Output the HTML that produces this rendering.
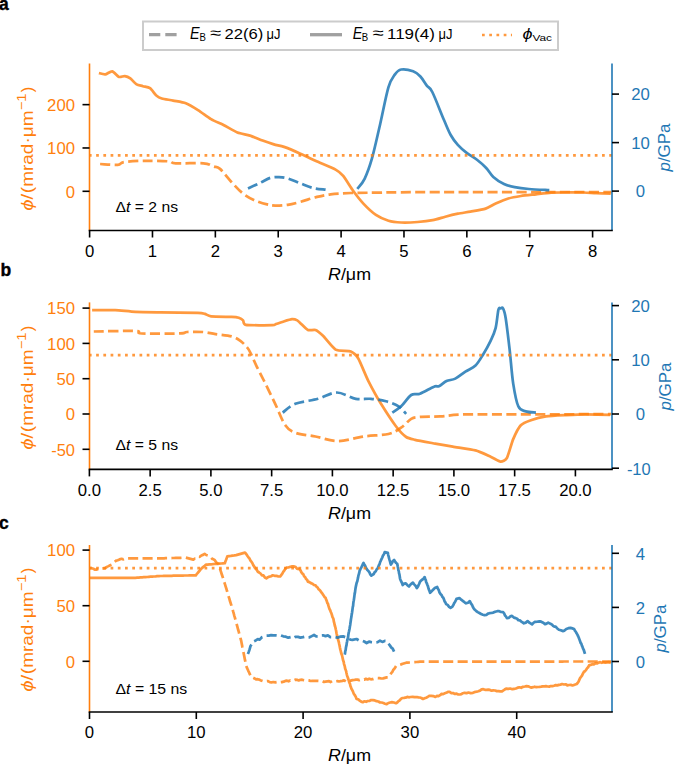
<!DOCTYPE html>
<html><head><meta charset="utf-8"><style>
html,body{margin:0;padding:0;background:#fff;}
svg{display:block;font-family:"Liberation Sans", sans-serif;}
</style></head><body>
<svg width="675" height="765" viewBox="0 0 675 765">
<rect width="675" height="765" fill="#fff"/>
<path d="M100.1,164.0 C103.0,164.1 113.7,165.1 117.7,164.8 C121.7,164.5 119.4,162.7 124.0,162.0 C128.6,161.3 138.2,160.9 145.5,160.8 C152.8,160.7 163.1,160.9 168.1,161.3 C173.1,161.7 169.8,163.0 175.7,163.3 C181.6,163.6 197.1,162.8 203.4,163.3 C209.7,163.8 210.7,165.6 213.5,166.5 C216.3,167.4 217.0,166.3 220.0,168.9 C223.0,171.5 227.9,178.2 231.6,182.2 C235.3,186.2 238.5,189.9 242.2,192.9 C245.9,195.9 249.7,198.1 253.8,200.0 C258.0,201.9 263.5,203.5 267.1,204.4 C270.7,205.3 271.8,205.5 275.2,205.6 C278.6,205.7 283.6,205.4 287.8,204.8 C292.0,204.2 295.8,203.1 300.4,201.8 C305.0,200.6 310.5,198.6 315.5,197.3 C320.5,196.1 324.7,195.0 330.6,194.3 C336.5,193.6 343.2,193.3 350.8,193.0 C358.4,192.7 364.4,192.8 375.9,192.7 C387.4,192.6 380.6,192.3 420.0,192.2 C459.4,192.1 580.0,192.1 612.0,192.1" fill="none" stroke="#ff7f0e" stroke-opacity="0.8" stroke-width="2.727" stroke-linejoin="round" stroke-dasharray="10.09 4.36" stroke-dashoffset="0.00"/>
<path d="M98.9,73.1 C99.7,73.3 103.6,74.6 105.2,74.4 C106.8,74.2 110.5,71.0 112.2,71.3 C113.9,71.6 117.5,76.3 119.0,76.9 C120.5,77.5 123.4,75.9 124.8,76.1 C126.2,76.3 128.9,77.4 130.3,78.4 C131.7,79.4 135.1,83.5 136.6,84.4 C138.1,85.3 141.3,85.7 142.9,86.2 C144.5,86.7 148.4,87.1 150.0,88.2 C151.6,89.3 154.9,94.3 156.3,95.5 C157.7,96.7 159.8,97.9 161.8,98.5 C163.8,99.1 170.3,100.0 173.2,100.6 C176.1,101.2 182.8,102.1 185.8,103.3 C188.8,104.5 195.4,108.5 198.4,110.4 C201.4,112.3 208.0,117.4 211.0,119.2 C214.0,121.0 220.3,123.4 223.5,125.0 C226.7,126.6 234.2,131.2 237.4,132.5 C240.6,133.8 247.0,134.6 250.0,135.6 C253.0,136.6 259.7,139.5 262.6,140.6 C265.5,141.7 271.3,143.6 273.9,144.4 C276.5,145.2 280.8,145.8 284.0,146.9 C287.2,148.0 296.6,152.0 300.4,153.7 C304.2,155.4 311.3,158.9 315.5,160.8 C319.7,162.7 332.3,167.8 335.6,169.6 C338.9,171.4 341.1,173.3 343.2,175.9 C345.3,178.5 350.9,187.7 353.3,191.0 C355.7,194.3 360.7,200.7 363.4,203.6 C366.1,206.5 372.9,212.8 375.9,214.9 C378.9,217.0 385.5,219.8 388.5,220.7 C391.5,221.6 397.6,222.3 401.1,222.5 C404.6,222.7 413.8,222.3 417.6,222.0 C421.4,221.7 429.4,220.8 432.7,220.2 C436.0,219.6 442.3,217.5 445.3,216.7 C448.3,215.9 454.9,214.3 457.9,213.7 C460.9,213.1 467.2,212.2 470.5,211.6 C473.8,211.0 482.6,209.6 485.6,208.6 C488.6,207.6 493.0,204.8 495.7,203.6 C498.4,202.4 505.3,199.4 508.3,198.5 C511.3,197.6 517.6,196.5 520.9,196.0 C524.2,195.5 532.4,194.7 536.0,194.3 C539.6,193.9 547.9,192.9 551.1,192.7 C554.3,192.5 559.1,192.5 563.0,192.5 C566.9,192.5 579.7,192.4 583.7,192.5 C587.7,192.6 593.0,193.1 596.2,193.2 C599.4,193.3 609.0,193.6 610.7,193.6" fill="none" stroke="#ff7f0e" stroke-opacity="0.8" stroke-width="2.727" stroke-linejoin="round"/>
<path d="M248.0,188.4 C250.0,187.5 256.3,184.7 260.0,182.9 C263.7,181.2 267.0,178.9 270.2,177.9 C273.4,176.9 276.1,177.0 279.0,177.1 C281.9,177.2 284.2,177.3 287.8,178.4 C291.4,179.5 296.2,181.8 300.4,183.4 C304.6,185.0 308.8,186.9 313.0,188.0 C317.2,189.1 323.5,189.4 325.6,189.7" fill="none" stroke="#1f77b4" stroke-opacity="0.85" stroke-width="2.727" stroke-linejoin="round" stroke-dasharray="10.09 4.36" stroke-dashoffset="0.00"/>
<path d="M357.3,188.9 C358.5,187.2 362.2,183.8 364.6,178.8 C367.0,173.8 369.3,167.8 371.9,158.7 C374.5,149.6 377.4,135.9 380.2,124.0 C382.9,112.1 386.0,95.6 388.4,87.4 C390.8,79.2 392.7,77.6 394.8,74.6 C396.9,71.6 398.1,70.0 401.2,69.5 C404.2,69.0 409.9,70.1 413.1,71.3 C416.3,72.5 418.1,74.1 420.4,76.5 C422.7,78.9 424.8,83.0 426.8,85.6 C428.8,88.2 429.4,86.2 432.3,92.0 C435.2,97.8 441.0,113.1 444.1,120.3 C447.2,127.5 448.4,130.9 450.7,135.0 C453.0,139.1 455.1,141.9 457.8,144.9 C460.5,147.9 463.4,150.4 466.7,152.9 C469.9,155.4 474.1,157.5 477.3,160.0 C480.6,162.5 483.5,165.2 486.2,168.0 C488.9,170.8 490.3,174.2 493.3,176.9 C496.3,179.6 500.4,182.3 504.0,184.0 C507.6,185.7 510.6,186.4 514.7,187.2 C518.9,188.0 523.1,188.5 528.9,189.0 C534.7,189.5 545.9,190.0 549.3,190.2" fill="none" stroke="#1f77b4" stroke-opacity="0.85" stroke-width="2.727" stroke-linejoin="round"/>
<line x1="89.5" y1="155.3" x2="612.0" y2="155.3" stroke="#ff7f0e" stroke-opacity="0.8" stroke-width="2.727" stroke-dasharray="2.727 4.500" stroke-dashoffset="0.6"/>
<line x1="89.5" y1="63.5" x2="89.5" y2="230.5" stroke="#ff7f0e" stroke-width="1.6"/>
<line x1="612.0" y1="63.5" x2="612.0" y2="230.5" stroke="#1f77b4" stroke-width="1.6"/>
<line x1="88.7" y1="230.5" x2="612.8" y2="230.5" stroke="#000" stroke-width="1.6"/>
<line x1="82.5" y1="191.3" x2="89.5" y2="191.3" stroke="#000" stroke-width="1.6"/>
<text x="75.0" y="197.6" font-size="16.0" fill="#ff7f0e" text-anchor="end" textLength="9.3" lengthAdjust="spacingAndGlyphs" >0</text>
<line x1="82.5" y1="147.97000000000003" x2="89.5" y2="147.97000000000003" stroke="#000" stroke-width="1.6"/>
<text x="75.0" y="154.3" font-size="16.0" fill="#ff7f0e" text-anchor="end" textLength="27.9" lengthAdjust="spacingAndGlyphs" >100</text>
<line x1="82.5" y1="104.64000000000001" x2="89.5" y2="104.64000000000001" stroke="#000" stroke-width="1.6"/>
<text x="75.0" y="110.9" font-size="16.0" fill="#ff7f0e" text-anchor="end" textLength="27.9" lengthAdjust="spacingAndGlyphs" >200</text>
<line x1="612.0" y1="191.1" x2="619.0" y2="191.1" stroke="#000" stroke-width="1.6"/>
<text x="640.5" y="197.4" font-size="16.0" fill="#1f77b4" text-anchor="middle" textLength="9.3" lengthAdjust="spacingAndGlyphs" >0</text>
<line x1="612.0" y1="142.6" x2="619.0" y2="142.6" stroke="#000" stroke-width="1.6"/>
<text x="640.5" y="148.9" font-size="16.0" fill="#1f77b4" text-anchor="middle" textLength="18.6" lengthAdjust="spacingAndGlyphs" >10</text>
<line x1="612.0" y1="94.1" x2="619.0" y2="94.1" stroke="#000" stroke-width="1.6"/>
<text x="640.5" y="100.4" font-size="16.0" fill="#1f77b4" text-anchor="middle" textLength="18.6" lengthAdjust="spacingAndGlyphs" >20</text>
<line x1="89.6" y1="230.5" x2="89.6" y2="237.5" stroke="#000" stroke-width="1.6"/>
<text x="89.6" y="256.6" font-size="16.0" fill="#000" text-anchor="middle" textLength="9.3" lengthAdjust="spacingAndGlyphs" >0</text>
<line x1="152.475" y1="230.5" x2="152.475" y2="237.5" stroke="#000" stroke-width="1.6"/>
<text x="152.5" y="256.6" font-size="16.0" fill="#000" text-anchor="middle" textLength="9.3" lengthAdjust="spacingAndGlyphs" >1</text>
<line x1="215.35" y1="230.5" x2="215.35" y2="237.5" stroke="#000" stroke-width="1.6"/>
<text x="215.3" y="256.6" font-size="16.0" fill="#000" text-anchor="middle" textLength="9.3" lengthAdjust="spacingAndGlyphs" >2</text>
<line x1="278.225" y1="230.5" x2="278.225" y2="237.5" stroke="#000" stroke-width="1.6"/>
<text x="278.2" y="256.6" font-size="16.0" fill="#000" text-anchor="middle" textLength="9.3" lengthAdjust="spacingAndGlyphs" >3</text>
<line x1="341.1" y1="230.5" x2="341.1" y2="237.5" stroke="#000" stroke-width="1.6"/>
<text x="341.1" y="256.6" font-size="16.0" fill="#000" text-anchor="middle" textLength="9.3" lengthAdjust="spacingAndGlyphs" >4</text>
<line x1="403.975" y1="230.5" x2="403.975" y2="237.5" stroke="#000" stroke-width="1.6"/>
<text x="404.0" y="256.6" font-size="16.0" fill="#000" text-anchor="middle" textLength="9.3" lengthAdjust="spacingAndGlyphs" >5</text>
<line x1="466.85" y1="230.5" x2="466.85" y2="237.5" stroke="#000" stroke-width="1.6"/>
<text x="466.9" y="256.6" font-size="16.0" fill="#000" text-anchor="middle" textLength="9.3" lengthAdjust="spacingAndGlyphs" >6</text>
<line x1="529.725" y1="230.5" x2="529.725" y2="237.5" stroke="#000" stroke-width="1.6"/>
<text x="529.7" y="256.6" font-size="16.0" fill="#000" text-anchor="middle" textLength="9.3" lengthAdjust="spacingAndGlyphs" >7</text>
<line x1="592.6" y1="230.5" x2="592.6" y2="237.5" stroke="#000" stroke-width="1.6"/>
<text x="592.6" y="256.6" font-size="16.0" fill="#000" text-anchor="middle" textLength="9.3" lengthAdjust="spacingAndGlyphs" >8</text>
<text x="328" y="279.9" font-size="16.3" fill="#000" textLength="43" lengthAdjust="spacingAndGlyphs"><tspan font-style="italic">R</tspan>/μm</text>
<g transform="translate(32.5,210.15) rotate(-90)" fill="#ff7f0e"><text x="-0.7" y="0" font-size="16.3" textLength="17.0" lengthAdjust="spacingAndGlyphs"><tspan font-style="italic">ϕ</tspan>/</text><text x="17.0" y="0" font-size="16.3" textLength="82.6" lengthAdjust="spacingAndGlyphs">(mrad·μm</text><text x="99.8" y="-6.3" font-size="12.5" textLength="16.8" lengthAdjust="spacingAndGlyphs">−1</text><text x="118.0" y="0" font-size="16.3">)</text></g>
<text transform="translate(670.4,147.5) rotate(-90)" x="0" y="0" font-size="16.3" fill="#1f77b4" text-anchor="middle" textLength="48" lengthAdjust="spacingAndGlyphs"><tspan font-style="italic">p</tspan>/GPa</text>
<text x="115.5" y="212.2" font-size="14.6" fill="#000" textLength="62.5" lengthAdjust="spacingAndGlyphs">Δ<tspan font-style="italic">t</tspan> = 2 ns</text>
<text x="-1" y="9.5" font-size="17.5" font-weight="bold" fill="#000" stroke="#000" stroke-width="0.35">a</text>
<path d="M93.8,331.5 C100.7,331.4 127.4,330.7 135.4,331.0 C143.4,331.3 134.3,333.1 141.7,333.5 C149.1,333.9 172.4,333.6 180.0,333.4 C187.6,333.1 183.2,332.2 187.1,332.0 C190.9,331.8 198.3,331.6 203.1,332.0 C207.8,332.4 210.8,333.4 215.6,334.1 C220.3,334.8 227.5,335.3 231.6,336.4 C235.7,337.5 237.7,339.0 240.4,340.9 C243.1,342.8 245.8,345.8 247.6,348.0 C249.4,350.2 249.6,351.2 251.1,354.2 C252.6,357.2 254.3,361.5 256.4,365.8 C258.5,370.1 260.5,373.7 263.6,380.0 C266.7,386.3 271.6,396.3 275.2,403.8 C278.8,411.3 281.9,420.4 285.3,425.2 C288.7,430.0 290.3,430.9 295.3,432.8 C300.3,434.7 308.4,435.1 315.5,436.5 C322.6,437.9 330.2,441.1 338.2,441.1 C346.2,441.1 355.0,437.7 363.4,436.5 C371.8,435.3 382.2,435.5 388.5,434.0 C394.8,432.5 397.3,430.2 401.1,427.7 C404.9,425.2 408.1,420.7 411.2,418.9 C414.3,417.1 415.2,417.3 420.0,416.9 C424.8,416.5 432.6,416.8 440.2,416.4 C447.8,416.0 450.7,414.7 465.4,414.4 C480.1,414.1 503.9,414.4 528.3,414.4 C552.7,414.3 598.0,414.2 612.0,414.1" fill="none" stroke="#ff7f0e" stroke-opacity="0.8" stroke-width="2.727" stroke-linejoin="round" stroke-dasharray="10.09 4.36" stroke-dashoffset="0.00"/>
<path d="M92.1,310.1 C94.4,310.1 110.9,309.9 115.2,310.1 C119.5,310.3 130.9,311.7 135.4,311.9 C139.9,312.1 154.4,312.3 160.6,312.4 C166.8,312.5 193.4,312.7 197.8,312.8 C202.2,312.9 203.6,313.5 204.9,313.9 C206.2,314.3 208.4,316.1 211.1,316.4 C213.8,316.7 228.8,316.8 231.6,316.9 C234.4,317.0 237.5,317.4 238.7,317.8 C239.8,318.2 242.4,319.7 243.1,320.4 C243.8,321.1 242.9,324.4 245.8,324.9 C248.7,325.4 269.4,325.3 272.4,325.2 C275.4,325.1 274.9,324.4 276.0,324.0 C277.1,323.6 281.5,322.2 283.1,321.7 C284.7,321.2 290.6,319.3 292.0,319.2 C293.4,319.1 296.5,320.0 297.3,320.4 C298.1,320.8 299.3,322.2 300.4,323.2 C301.5,324.2 306.4,329.3 307.9,330.0 C309.4,330.7 314.0,329.4 315.5,330.0 C317.0,330.6 321.0,333.8 323.0,335.8 C325.0,337.8 332.8,348.0 335.6,349.6 C338.4,351.2 348.5,350.5 350.8,351.4 C353.1,352.3 356.5,355.5 358.3,358.5 C360.1,361.5 366.1,376.6 368.4,381.1 C370.7,385.6 378.2,399.3 381.0,403.8 C383.8,408.3 393.6,423.2 396.1,426.5 C398.6,429.8 404.3,435.7 406.2,437.0 C408.1,438.3 412.1,439.1 415.0,439.8 C417.9,440.5 431.4,442.9 435.2,443.6 C439.0,444.3 448.8,445.9 452.8,446.6 C456.8,447.3 471.7,449.4 475.5,450.4 C479.3,451.4 488.1,455.6 490.6,456.7 C493.1,457.8 499.0,461.6 500.6,461.7 C502.2,461.8 505.6,460.3 506.9,458.0 C508.2,455.7 511.8,442.4 513.2,439.1 C514.6,435.8 519.0,427.1 520.8,425.2 C522.6,423.3 528.4,421.1 530.9,420.2 C533.4,419.3 542.5,416.9 546.0,416.4 C549.5,415.9 562.2,415.3 566.1,415.1 C570.0,414.9 580.6,414.4 585.0,414.4 C589.4,414.4 607.5,414.8 610.0,414.9" fill="none" stroke="#ff7f0e" stroke-opacity="0.8" stroke-width="2.727" stroke-linejoin="round"/>
<path d="M282.7,412.6 C284.8,411.1 289.4,406.1 295.3,403.8 C301.2,401.5 311.1,400.7 318.0,398.8 C324.9,396.9 330.6,392.5 336.9,392.5 C343.2,392.5 350.1,397.8 355.8,398.8 C361.5,399.9 365.9,398.4 370.9,398.8 C375.9,399.2 381.4,400.1 386.0,401.3 C390.6,402.6 395.2,404.2 398.6,406.3 C402.0,408.4 404.9,412.6 406.2,413.9" fill="none" stroke="#1f77b4" stroke-opacity="0.85" stroke-width="2.727" stroke-linejoin="round" stroke-dasharray="10.09 4.36" stroke-dashoffset="0.00"/>
<path d="M392.3,412.6 C393.8,411.6 398.0,409.2 401.1,406.3 C404.2,403.4 408.1,397.1 411.2,395.0 C414.3,392.9 416.2,395.1 420.0,393.7 C423.8,392.3 430.8,387.9 433.9,386.7 C437.0,385.4 436.8,387.1 438.9,386.2 C441.0,385.3 443.8,382.4 446.5,381.1 C449.2,379.8 452.2,380.2 455.3,378.6 C458.4,377.0 462.0,373.8 465.4,371.6 C468.8,369.4 472.6,368.3 475.5,365.5 C478.4,362.7 480.5,358.8 483.0,354.7 C485.5,350.6 488.5,345.2 490.6,340.8 C492.7,336.4 494.3,333.4 495.6,328.2 C496.9,323.0 497.6,313.1 498.4,309.8 C499.2,306.5 499.7,308.6 500.5,308.4 C501.3,308.2 502.1,306.8 503.0,308.4 C503.9,310.0 504.6,311.5 505.7,318.2 C506.8,324.9 508.2,337.5 509.5,348.4 C510.8,359.3 511.7,374.0 513.2,383.6 C514.7,393.2 516.2,401.7 518.3,406.3 C520.4,410.9 522.9,410.3 525.8,411.4 C528.7,412.4 534.2,412.4 535.9,412.6" fill="none" stroke="#1f77b4" stroke-opacity="0.85" stroke-width="2.727" stroke-linejoin="round"/>
<line x1="89.5" y1="355.2" x2="612.0" y2="355.2" stroke="#ff7f0e" stroke-opacity="0.8" stroke-width="2.727" stroke-dasharray="2.727 4.500" stroke-dashoffset="0.6"/>
<line x1="89.5" y1="302.4" x2="89.5" y2="469.4" stroke="#ff7f0e" stroke-width="1.6"/>
<line x1="612.0" y1="302.4" x2="612.0" y2="469.4" stroke="#1f77b4" stroke-width="1.6"/>
<line x1="88.7" y1="469.4" x2="612.8" y2="469.4" stroke="#000" stroke-width="1.6"/>
<line x1="82.5" y1="449.3" x2="89.5" y2="449.3" stroke="#000" stroke-width="1.6"/>
<text x="75.0" y="455.6" font-size="16.0" fill="#ff7f0e" text-anchor="end" textLength="23.8" lengthAdjust="spacingAndGlyphs" >-50</text>
<line x1="82.5" y1="414.0" x2="89.5" y2="414.0" stroke="#000" stroke-width="1.6"/>
<text x="75.0" y="420.3" font-size="16.0" fill="#ff7f0e" text-anchor="end" textLength="9.3" lengthAdjust="spacingAndGlyphs" >0</text>
<line x1="82.5" y1="378.7" x2="89.5" y2="378.7" stroke="#000" stroke-width="1.6"/>
<text x="75.0" y="385.0" font-size="16.0" fill="#ff7f0e" text-anchor="end" textLength="18.6" lengthAdjust="spacingAndGlyphs" >50</text>
<line x1="82.5" y1="343.4" x2="89.5" y2="343.4" stroke="#000" stroke-width="1.6"/>
<text x="75.0" y="349.7" font-size="16.0" fill="#ff7f0e" text-anchor="end" textLength="27.9" lengthAdjust="spacingAndGlyphs" >100</text>
<line x1="82.5" y1="308.1" x2="89.5" y2="308.1" stroke="#000" stroke-width="1.6"/>
<text x="75.0" y="314.4" font-size="16.0" fill="#ff7f0e" text-anchor="end" textLength="27.9" lengthAdjust="spacingAndGlyphs" >150</text>
<line x1="612.0" y1="468.2" x2="619.0" y2="468.2" stroke="#000" stroke-width="1.6"/>
<text x="638.8" y="474.5" font-size="16.0" fill="#1f77b4" text-anchor="middle" textLength="23.8" lengthAdjust="spacingAndGlyphs" >-10</text>
<line x1="612.0" y1="414.0" x2="619.0" y2="414.0" stroke="#000" stroke-width="1.6"/>
<text x="640.5" y="420.3" font-size="16.0" fill="#1f77b4" text-anchor="middle" textLength="9.3" lengthAdjust="spacingAndGlyphs" >0</text>
<line x1="612.0" y1="359.8" x2="619.0" y2="359.8" stroke="#000" stroke-width="1.6"/>
<text x="640.5" y="366.1" font-size="16.0" fill="#1f77b4" text-anchor="middle" textLength="18.6" lengthAdjust="spacingAndGlyphs" >10</text>
<line x1="612.0" y1="305.6" x2="619.0" y2="305.6" stroke="#000" stroke-width="1.6"/>
<text x="640.5" y="311.9" font-size="16.0" fill="#1f77b4" text-anchor="middle" textLength="18.6" lengthAdjust="spacingAndGlyphs" >20</text>
<line x1="89.4" y1="469.4" x2="89.4" y2="476.4" stroke="#000" stroke-width="1.6"/>
<text x="89.4" y="495.5" font-size="16.0" fill="#000" text-anchor="middle" textLength="23.2" lengthAdjust="spacingAndGlyphs" >0.0</text>
<line x1="150.15" y1="469.4" x2="150.15" y2="476.4" stroke="#000" stroke-width="1.6"/>
<text x="150.2" y="495.5" font-size="16.0" fill="#000" text-anchor="middle" textLength="23.2" lengthAdjust="spacingAndGlyphs" >2.5</text>
<line x1="210.9" y1="469.4" x2="210.9" y2="476.4" stroke="#000" stroke-width="1.6"/>
<text x="210.9" y="495.5" font-size="16.0" fill="#000" text-anchor="middle" textLength="23.2" lengthAdjust="spacingAndGlyphs" >5.0</text>
<line x1="271.65" y1="469.4" x2="271.65" y2="476.4" stroke="#000" stroke-width="1.6"/>
<text x="271.6" y="495.5" font-size="16.0" fill="#000" text-anchor="middle" textLength="23.2" lengthAdjust="spacingAndGlyphs" >7.5</text>
<line x1="332.4" y1="469.4" x2="332.4" y2="476.4" stroke="#000" stroke-width="1.6"/>
<text x="332.4" y="495.5" font-size="16.0" fill="#000" text-anchor="middle" textLength="32.5" lengthAdjust="spacingAndGlyphs" >10.0</text>
<line x1="393.15" y1="469.4" x2="393.15" y2="476.4" stroke="#000" stroke-width="1.6"/>
<text x="393.1" y="495.5" font-size="16.0" fill="#000" text-anchor="middle" textLength="32.5" lengthAdjust="spacingAndGlyphs" >12.5</text>
<line x1="453.9" y1="469.4" x2="453.9" y2="476.4" stroke="#000" stroke-width="1.6"/>
<text x="453.9" y="495.5" font-size="16.0" fill="#000" text-anchor="middle" textLength="32.5" lengthAdjust="spacingAndGlyphs" >15.0</text>
<line x1="514.65" y1="469.4" x2="514.65" y2="476.4" stroke="#000" stroke-width="1.6"/>
<text x="514.6" y="495.5" font-size="16.0" fill="#000" text-anchor="middle" textLength="32.5" lengthAdjust="spacingAndGlyphs" >17.5</text>
<line x1="575.4" y1="469.4" x2="575.4" y2="476.4" stroke="#000" stroke-width="1.6"/>
<text x="575.4" y="495.5" font-size="16.0" fill="#000" text-anchor="middle" textLength="32.5" lengthAdjust="spacingAndGlyphs" >20.0</text>
<text x="328" y="519.0" font-size="16.3" fill="#000" textLength="43" lengthAdjust="spacingAndGlyphs"><tspan font-style="italic">R</tspan>/μm</text>
<g transform="translate(32.5,449.15) rotate(-90)" fill="#ff7f0e"><text x="-0.7" y="0" font-size="16.3" textLength="17.0" lengthAdjust="spacingAndGlyphs"><tspan font-style="italic">ϕ</tspan>/</text><text x="17.0" y="0" font-size="16.3" textLength="82.6" lengthAdjust="spacingAndGlyphs">(mrad·μm</text><text x="99.8" y="-6.3" font-size="12.5" textLength="16.8" lengthAdjust="spacingAndGlyphs">−1</text><text x="118.0" y="0" font-size="16.3">)</text></g>
<text transform="translate(671,386.5) rotate(-90)" x="0" y="0" font-size="16.3" fill="#1f77b4" text-anchor="middle" textLength="48" lengthAdjust="spacingAndGlyphs"><tspan font-style="italic">p</tspan>/GPa</text>
<text x="115.5" y="450.4" font-size="14.6" fill="#000" textLength="62.5" lengthAdjust="spacingAndGlyphs">Δ<tspan font-style="italic">t</tspan> = 5 ns</text>
<text x="0.5" y="275.8" font-size="17.5" font-weight="bold" fill="#000" stroke="#000" stroke-width="0.35">b</text>
<path d="M90.0,568.2 L91.7,568.2 L93.4,568.8 L95.1,569.7 L96.8,569.6 L98.5,568.8 L100.2,568.5 L101.8,568.7 L103.5,568.4 L105.2,568.2 L106.9,566.9 L108.5,566.1 L110.2,565.2 L111.7,564.6 L113.2,562.8 L114.7,561.8 L116.2,560.6 L117.7,560.2 L119.6,559.4 L121.5,558.8 L123.4,559.4 L125.3,558.4 L126.9,558.4 L128.5,558.4 L130.1,558.4 L131.7,558.4 L133.3,558.4 L134.9,558.4 L136.5,558.4 L138.1,558.4 L139.7,558.4 L141.3,558.4 L142.9,558.4 L144.6,558.4 L146.2,558.4 L147.8,558.4 L149.4,558.4 L151.0,558.4 L152.6,558.4 L154.2,558.4 L155.8,558.4 L157.4,558.4 L159.0,558.4 L160.6,558.4 L162.3,558.3 L164.0,558.3 L165.6,558.2 L167.3,558.2 L169.0,558.1 L170.7,558.1 L172.4,558.0 L174.0,558.0 L175.7,557.9 L177.4,557.9 L179.1,557.8 L180.8,557.8 L182.4,557.7 L184.1,557.7 L185.8,557.6 L187.7,558.1 L189.6,558.6 L191.4,559.1 L193.3,559.6 L194.9,558.6 L196.5,558.6 L198.1,556.7 L199.8,556.8 L201.4,555.5 L203.0,554.9 L204.6,553.9 L206.2,555.0 L207.8,555.5 L209.4,556.4 L211.0,557.6 L212.2,558.9 L213.5,559.3 L214.8,560.2 L216.0,562.1 L217.2,563.0 L218.5,563.9 L219.0,565.5 L219.5,567.1 L220.0,568.7 L220.5,570.3 L221.0,571.9 L221.5,573.5 L222.0,575.1 L222.6,576.7 L223.1,578.3 L223.6,579.9 L224.1,581.5 L224.6,583.1 L225.1,584.7 L225.6,586.3 L226.1,587.9 L226.6,589.5 L227.0,591.0 L227.5,592.6 L228.0,594.2 L228.4,595.7 L228.9,597.3 L229.4,598.9 L229.8,600.5 L230.3,602.0 L230.8,603.6 L231.3,605.2 L231.7,606.7 L232.2,608.3 L232.7,609.9 L233.1,611.4 L233.6,613.0 L234.0,614.5 L234.4,616.1 L234.9,617.6 L235.3,619.2 L235.7,620.7 L236.1,622.3 L236.6,623.8 L237.0,625.4 L237.4,626.9 L237.8,628.4 L238.2,630.0 L238.7,631.5 L239.1,633.1 L239.5,634.6 L239.9,636.2 L240.4,637.7 L240.8,639.3 L241.2,640.8 L241.5,642.4 L241.8,643.9 L242.1,645.5 L242.4,647.1 L242.8,648.7 L243.1,650.2 L243.4,651.8 L243.7,653.4 L244.0,655.0 L244.3,656.5 L244.6,658.1 L244.9,659.7 L245.3,661.3 L245.6,662.9 L245.9,664.4 L246.2,666.0 L246.9,667.6 L247.6,669.2 L248.3,670.8 L249.1,672.5 L249.8,674.1 L250.5,675.7 L251.2,677.3 L252.8,677.6 L254.5,678.4 L256.1,679.4 L257.7,679.2 L259.3,679.6 L261.0,680.5 L262.6,681.1 L264.4,680.9 L266.2,681.3 L268.0,681.1 L269.8,682.1 L271.6,682.3 L273.4,682.0 L275.2,682.3 L276.9,682.0 L278.6,681.7 L280.2,682.3 L281.9,682.1 L283.6,681.7 L285.3,680.9 L287.0,680.7 L288.6,681.3 L290.3,680.4 L292.0,680.9 L293.7,680.4 L295.4,679.7 L297.0,679.8 L298.7,680.5 L300.4,679.8 L302.1,679.7 L303.8,680.2 L305.4,680.5 L307.1,680.2 L308.8,680.4 L310.5,681.0 L312.2,680.9 L313.8,680.8 L315.5,680.9 L317.2,680.9 L318.9,681.0 L320.6,681.4 L322.2,681.1 L323.9,681.9 L325.6,681.6 L327.3,681.3 L329.0,681.1 L330.6,682.0 L332.3,680.8 L334.0,681.2 L335.7,681.3 L337.4,681.1 L339.0,681.5 L340.7,681.2 L342.4,680.9 L344.1,680.3 L345.8,681.4 L347.4,680.6 L349.1,680.5 L350.8,680.6 L352.5,680.1 L354.1,680.0 L355.8,679.7 L357.5,679.6 L359.2,680.1 L360.8,679.5 L362.5,679.6 L364.2,679.7 L365.9,678.8 L367.5,679.5 L369.2,678.7 L370.9,679.3 L372.6,679.2 L374.2,678.6 L375.9,678.5 L377.7,678.1 L379.5,678.2 L381.3,678.5 L383.1,678.4 L384.9,677.9 L386.7,677.4 L388.5,677.3 L389.4,675.8 L390.4,674.7 L391.4,672.9 L392.3,672.0 L393.2,670.0 L394.2,668.9 L395.2,667.4 L396.1,666.0 L397.8,665.5 L399.5,664.9 L401.1,664.4 L402.8,663.8 L404.5,663.2 L406.2,662.7 L407.9,662.6 L409.6,662.5 L411.4,662.3 L413.1,662.2 L414.8,662.1 L416.6,662.0 L418.3,661.8 L420.0,661.7 L421.6,661.7 L423.2,661.7 L424.8,661.7 L426.4,661.7 L428.0,661.7 L429.6,661.7 L431.2,661.7 L432.8,661.7 L434.4,661.7 L436.0,661.7 L437.6,661.7 L439.2,661.7 L440.8,661.7 L442.4,661.7 L444.0,661.7 L445.6,661.7 L447.2,661.7 L448.8,661.7 L450.4,661.7 L452.0,661.7 L453.6,661.7 L455.2,661.7 L456.8,661.7 L458.4,661.7 L460.0,661.7 L461.6,661.7 L463.2,661.7 L464.8,661.7 L466.4,661.7 L468.0,661.7 L469.6,661.6 L471.2,661.6 L472.8,661.6 L474.4,661.6 L476.0,661.6 L477.6,661.6 L479.2,661.6 L480.8,661.6 L482.4,661.6 L484.0,661.6 L485.6,661.6 L487.2,661.6 L488.8,661.6 L490.4,661.6 L492.0,661.6 L493.6,661.6 L495.2,661.6 L496.8,661.6 L498.4,661.6 L500.0,661.6 L501.6,661.6 L503.2,661.6 L504.8,661.6 L506.4,661.6 L508.0,661.6 L509.6,661.6 L511.2,661.6 L512.8,661.6 L514.4,661.6 L516.0,661.6 L517.6,661.6 L519.2,661.6 L520.8,661.6 L522.4,661.6 L524.0,661.6 L525.6,661.6 L527.2,661.6 L528.8,661.6 L530.4,661.6 L532.0,661.6 L533.6,661.6 L535.2,661.6 L536.8,661.6 L538.4,661.6 L540.0,661.6 L541.6,661.6 L543.2,661.6 L544.8,661.6 L546.4,661.6 L548.0,661.6 L549.6,661.6 L551.2,661.6 L552.8,661.6 L554.4,661.6 L556.0,661.6 L557.6,661.6 L559.2,661.6 L560.8,661.6 L562.4,661.6 L564.0,661.5 L565.6,661.5 L567.2,661.5 L568.8,661.5 L570.4,661.5 L572.0,661.5 L573.6,661.5 L575.2,661.5 L576.8,661.5 L578.4,661.5 L580.0,661.5 L581.6,661.5 L583.2,661.5 L584.8,661.5 L586.4,661.5 L588.0,661.5 L589.6,661.5 L591.2,661.5 L592.8,661.5 L594.4,661.5 L596.0,661.5 L597.6,661.5 L599.2,661.5 L600.8,661.5 L602.4,661.5 L604.0,661.5 L605.6,661.5 L607.2,661.5 L608.8,661.5 L610.4,661.5 L612.0,661.5" fill="none" stroke="#ff7f0e" stroke-opacity="0.8" stroke-width="2.727" stroke-linejoin="round" stroke-dasharray="10.09 4.36" stroke-dashoffset="1.50"/>
<path d="M90.0,577.8 L91.6,577.8 L93.2,577.8 L94.9,577.8 L96.5,577.8 L98.1,577.8 L99.7,577.8 L101.3,577.8 L103.0,577.8 L104.6,577.8 L106.2,577.8 L107.8,577.8 L109.5,577.8 L111.1,577.8 L112.7,577.8 L114.3,577.8 L115.9,577.8 L117.6,577.8 L119.2,577.8 L120.8,577.8 L122.4,577.8 L124.1,577.8 L125.7,577.8 L127.3,577.8 L128.9,577.8 L130.5,577.8 L132.2,577.8 L133.8,577.8 L135.4,577.8 L137.1,577.7 L138.8,577.6 L140.4,577.4 L142.1,577.3 L143.8,577.2 L145.5,577.1 L147.2,577.0 L148.8,576.8 L150.5,576.7 L152.2,576.6 L153.9,576.5 L155.6,576.4 L157.2,576.2 L158.9,576.1 L160.6,576.0 L162.2,576.0 L163.8,575.9 L165.4,575.9 L167.0,575.9 L168.6,575.8 L170.2,575.8 L171.8,575.8 L173.4,575.7 L175.0,575.7 L176.6,575.7 L178.2,575.6 L179.8,575.6 L181.4,575.6 L183.0,575.6 L184.6,575.5 L186.2,575.5 L187.8,575.5 L189.4,575.4 L191.0,575.4 L192.6,575.4 L194.2,575.3 L195.8,575.3 L196.8,574.0 L197.8,572.8 L198.9,571.5 L199.9,570.3 L200.9,569.0 L202.2,567.9 L203.4,566.9 L204.7,565.8 L205.9,564.7 L207.6,564.6 L209.3,564.4 L210.9,564.3 L212.6,564.2 L214.3,564.0 L216.0,563.9 L217.8,563.8 L219.5,563.6 L221.3,563.5 L223.0,563.3 L224.8,563.2 L225.4,561.5 L226.1,559.8 L226.7,558.1 L227.3,556.4 L229.1,556.1 L230.8,555.9 L232.6,555.6 L234.3,555.4 L236.1,555.1 L237.9,554.6 L239.7,554.1 L241.4,553.6 L243.2,553.1 L245.0,552.6 L246.2,554.0 L247.5,556.0 L248.7,557.6 L249.6,558.7 L250.5,560.7 L251.4,561.7 L252.3,563.0 L253.2,565.0 L254.0,566.3 L254.9,567.8 L255.8,568.9 L256.7,569.7 L257.6,571.5 L259.1,572.5 L260.5,573.5 L262.0,575.3 L263.5,575.4 L264.9,577.5 L266.4,578.3 L268.0,577.2 L269.5,576.6 L271.1,576.2 L272.7,575.3 L274.6,575.8 L276.4,575.9 L278.3,576.3 L280.2,576.5 L281.2,575.1 L282.3,573.7 L283.4,571.6 L284.4,570.4 L285.4,568.6 L286.5,567.7 L288.4,567.5 L290.3,566.8 L292.2,566.4 L294.1,566.4 L295.7,567.1 L297.2,568.8 L298.8,568.8 L300.4,570.2 L301.3,572.1 L302.3,573.5 L303.2,574.1 L304.1,576.3 L305.1,577.0 L306.0,578.9 L307.0,579.7 L307.9,581.6 L309.4,582.1 L310.9,583.1 L312.5,583.7 L314.0,585.0 L315.5,585.3 L316.5,586.7 L317.5,587.3 L318.5,589.1 L319.5,589.8 L320.6,591.2 L321.6,592.7 L322.6,593.9 L323.6,595.4 L324.6,597.2 L325.6,597.9 L326.2,599.8 L326.8,601.1 L327.3,603.0 L327.9,603.7 L328.5,605.9 L329.1,607.8 L329.6,609.3 L330.2,610.3 L330.8,612.0 L331.4,613.3 L331.9,614.9 L332.5,617.1 L333.1,618.1 L333.5,619.3 L333.9,621.8 L334.2,622.7 L334.6,624.7 L335.0,626.3 L335.4,627.4 L335.8,629.5 L336.1,630.6 L336.5,633.3 L336.9,635.0 L337.3,636.2 L337.7,638.0 L338.0,639.6 L338.4,640.6 L338.8,642.1 L339.2,644.1 L339.6,645.8 L339.9,647.5 L340.3,649.4 L340.7,650.8 L341.1,652.7 L341.5,654.1 L341.9,655.0 L342.4,657.0 L342.8,658.9 L343.2,660.8 L343.6,661.3 L344.0,663.8 L344.4,665.1 L344.8,666.5 L345.2,668.7 L345.6,669.6 L346.1,671.1 L346.5,673.1 L346.9,674.8 L347.3,676.2 L347.8,677.4 L348.3,679.3 L348.8,680.6 L349.4,682.8 L349.9,683.5 L350.4,686.0 L350.9,687.1 L351.4,688.7 L352.1,689.8 L352.9,691.4 L353.6,693.4 L354.4,694.6 L355.1,695.6 L355.9,697.1 L356.6,699.0 L358.2,699.3 L359.7,700.6 L361.2,701.6 L362.8,702.2 L364.5,701.3 L366.1,701.8 L367.8,701.0 L369.4,700.9 L371.1,700.1 L372.9,700.1 L374.8,700.4 L376.6,701.2 L378.4,701.5 L380.1,702.5 L381.7,702.5 L383.4,703.0 L385.0,703.7 L386.7,704.2 L388.4,703.0 L390.2,702.5 L391.9,702.2 L393.9,702.5 L396.0,703.2 L397.2,702.5 L398.5,701.1 L399.7,700.3 L401.0,698.9 L402.2,698.0 L403.9,697.9 L405.5,697.7 L407.2,696.9 L408.8,697.3 L410.5,697.0 L412.6,696.9 L414.7,697.2 L416.8,697.0 L418.4,697.4 L419.9,697.5 L421.4,698.0 L423.0,699.0 L424.6,698.3 L426.1,697.7 L427.6,697.0 L429.2,695.9 L431.3,695.9 L433.3,696.1 L435.4,697.0 L437.0,695.9 L438.5,696.2 L440.1,695.2 L441.6,693.9 L443.2,694.1 L444.8,693.3 L446.3,692.8 L447.9,691.8 L449.6,691.9 L451.4,693.2 L453.1,693.1 L454.8,693.9 L456.6,693.6 L458.3,694.5 L459.9,694.5 L461.4,694.2 L462.9,693.2 L464.5,692.8 L466.6,693.1 L468.6,692.5 L470.7,693.2 L472.9,692.8 L475.0,691.9 L476.7,691.6 L478.3,691.2 L480.0,690.6 L481.6,689.4 L483.3,689.2 L485.0,689.8 L486.6,689.9 L488.3,689.6 L489.9,689.9 L491.6,690.7 L493.3,690.4 L495.1,690.5 L496.8,691.1 L498.5,691.1 L500.3,691.4 L502.0,691.3 L503.4,690.4 L504.7,689.5 L506.1,688.6 L508.2,688.9 L510.2,688.5 L512.3,689.2 L514.1,688.8 L515.9,688.5 L517.7,687.7 L519.4,687.3 L521.2,687.8 L523.0,686.8 L524.8,686.5 L526.5,686.1 L528.1,686.3 L529.8,687.0 L531.4,687.6 L533.1,687.2 L534.7,686.7 L536.3,687.2 L537.9,687.0 L539.5,686.9 L541.2,686.7 L542.8,686.4 L544.4,686.4 L546.0,686.2 L547.6,686.5 L549.2,686.6 L550.8,686.0 L552.4,686.2 L554.0,685.8 L555.7,685.1 L557.3,685.4 L558.9,684.9 L560.5,684.6 L562.1,684.0 L563.8,684.5 L565.6,684.3 L567.3,685.3 L569.0,685.0 L570.8,684.9 L572.5,685.5 L574.6,684.7 L576.7,684.0 L577.6,683.0 L578.5,681.7 L579.4,679.6 L580.2,677.9 L581.1,676.8 L582.0,675.6 L582.9,673.7 L583.9,671.8 L585.0,671.2 L586.0,670.0 L587.0,668.4 L588.1,667.3 L589.1,665.4 L590.6,664.9 L592.2,664.2 L593.8,664.4 L595.3,663.3 L597.0,663.5 L598.6,662.6 L600.3,662.2 L601.9,662.8 L603.6,662.3 L605.4,662.6 L607.2,662.4 L609.1,662.2 L610.9,662.9" fill="none" stroke="#ff7f0e" stroke-opacity="0.8" stroke-width="2.727" stroke-linejoin="round"/>
<path d="M247.9,653.9 L248.8,651.7 L249.6,649.4 L250.5,646.0 L252.2,643.7 L253.8,641.3 L255.8,640.4 L257.8,639.1 L259.7,639.7 L261.7,637.4 L264.1,636.5 L266.4,635.7 L268.8,635.6 L271.1,635.2 L273.5,635.4 L275.9,635.3 L278.4,635.5 L280.9,635.4 L283.3,636.3 L285.8,636.7 L288.2,637.7 L290.7,637.1 L293.1,638.2 L295.6,636.8 L298.0,636.9 L300.4,637.6 L302.9,637.2 L305.1,636.7 L307.3,637.4 L309.5,637.3 L311.8,636.1 L314.0,635.0 L316.2,636.4 L318.4,636.3 L320.6,635.4 L323.0,635.3 L325.5,636.1 L327.9,635.4 L330.3,637.1 L332.7,637.1 L335.1,637.1 L337.6,637.7 L340.0,636.7 L343.1,636.4 L346.3,637.5 L348.4,638.4 L350.4,639.6 L352.5,639.8 L356.5,639.0 L359.2,640.6 L361.9,640.6 L364.2,641.5 L366.6,643.0 L369.0,641.7 L371.3,642.2 L374.5,642.5 L377.6,642.2 L380.0,640.7 L382.3,641.9 L384.7,640.9 L386.6,641.0 L388.6,643.7 L390.0,645.6 L391.4,647.6 L392.7,648.6 L394.1,651.6" fill="none" stroke="#1f77b4" stroke-opacity="0.85" stroke-width="2.727" stroke-linejoin="round" stroke-dasharray="10.09 4.36" stroke-dashoffset="0.00"/>
<path d="M344.7,654.7 L345.0,653.6 L345.3,651.0 L345.6,650.3 L345.9,647.8 L346.2,646.4 L346.5,645.2 L346.8,642.9 L347.1,641.5 L347.4,639.4 L347.8,638.7 L348.1,637.1 L348.4,634.4 L348.7,632.7 L349.0,631.5 L349.3,629.9 L349.6,628.5 L349.9,626.4 L350.2,624.9 L350.4,623.4 L350.7,621.2 L350.9,619.7 L351.2,617.9 L351.4,616.8 L351.6,615.2 L351.9,613.6 L352.1,612.3 L352.4,610.0 L352.6,608.4 L352.8,606.9 L353.1,605.8 L353.3,603.4 L353.5,601.8 L353.8,600.3 L354.0,599.0 L354.3,596.8 L354.5,595.1 L354.7,594.1 L355.0,592.3 L355.2,590.7 L355.5,588.4 L355.7,587.3 L356.1,585.4 L356.5,583.5 L356.9,582.2 L357.3,581.2 L357.6,579.7 L358.0,577.9 L358.4,575.7 L358.8,574.3 L359.2,573.0 L359.6,570.9 L360.4,569.1 L361.2,567.6 L361.9,566.4 L362.7,564.4 L363.5,563.0 L364.3,564.4 L365.1,565.7 L365.8,567.6 L366.6,568.7 L367.4,570.1 L368.4,571.0 L369.4,572.3 L370.3,574.4 L371.3,575.6 L373.7,574.0 L374.7,572.2 L375.6,571.5 L376.6,569.5 L377.6,568.5 L378.2,567.0 L378.9,565.2 L379.6,564.0 L380.2,561.8 L380.9,560.6 L381.5,559.1 L382.3,557.5 L383.1,555.3 L383.9,554.4 L384.7,552.1 L387.8,552.8 L388.2,555.1 L388.7,556.7 L389.1,558.4 L389.6,560.1 L390.0,561.3 L390.5,563.3 L390.9,564.6 L392.0,562.9 L393.0,560.9 L394.1,559.9 L395.1,561.7 L396.2,563.0 L397.2,563.8 L397.5,565.1 L397.8,566.8 L398.1,568.2 L398.4,570.3 L398.8,571.3 L399.1,573.6 L399.4,574.2 L399.7,576.2 L400.0,578.3 L400.3,579.5 L401.1,581.3 L401.9,582.7 L402.7,585.0 L404.2,583.6 L405.8,583.4 L407.4,585.2 L409.0,586.5 L410.3,584.7 L411.6,583.6 L412.9,582.6 L413.9,584.1 L414.9,585.1 L415.8,586.2 L416.8,588.1 L417.6,587.0 L418.4,585.5 L419.1,584.0 L419.9,581.9 L420.7,581.0 L422.0,579.7 L423.3,579.0 L424.6,577.1 L425.2,578.7 L425.7,579.9 L426.2,582.3 L426.8,583.2 L427.4,585.0 L427.9,586.1 L428.5,588.5 L429.0,589.9 L429.6,591.3 L430.1,592.8 L431.3,591.6 L432.5,590.3 L433.6,589.2 L434.8,588.1 L437.2,587.0 L437.9,588.7 L438.7,589.9 L439.4,592.2 L440.5,594.0 L441.7,595.2 L442.4,597.0 L443.2,597.6 L443.9,599.2 L444.6,601.4 L445.4,602.4 L446.1,604.1 L447.6,604.9 L449.1,606.8 L450.6,607.8 L452.1,606.9 L453.5,604.8 L454.2,603.1 L455.0,602.0 L455.8,600.4 L456.5,598.9 L459.4,598.1 L461.2,599.7 L463.1,601.1 L464.6,602.3 L466.1,603.3 L468.0,602.7 L469.8,601.1 L470.9,603.4 L472.0,604.8 L472.8,606.8 L473.5,608.0 L474.3,609.3 L476.0,610.8 L477.7,612.1 L479.4,613.0 L481.1,614.0 L482.9,614.7 L484.6,615.2 L486.3,615.0 L488.0,613.6 L489.6,613.2 L491.3,613.0 L493.3,612.6 L495.2,611.7 L497.2,611.2 L499.2,611.2 L501.1,612.0 L503.1,612.2 L504.1,613.3 L505.0,615.5 L505.9,616.4 L506.9,618.1 L508.6,617.9 L510.3,616.4 L512.0,615.9 L513.9,617.6 L515.7,618.1 L517.1,618.8 L518.4,620.2 L519.8,620.3 L521.2,621.6 L522.5,622.3 L523.9,623.3 L525.8,622.6 L527.6,621.1 L529.1,622.5 L530.6,623.4 L532.1,624.4 L533.7,622.6 L535.2,621.8 L537.5,621.6 L539.9,621.3 L541.6,621.9 L543.3,622.7 L545.0,624.1 L546.6,623.6 L548.2,622.6 L550.0,623.6 L551.8,624.4 L553.1,625.9 L554.4,626.7 L555.7,626.7 L557.0,628.2 L558.9,629.7 L560.8,630.2 L562.7,631.1 L564.5,630.6 L566.3,629.0 L568.4,628.2 L570.5,627.8 L572.3,628.4 L574.1,629.0 L574.9,630.7 L575.7,631.6 L576.6,633.3 L577.4,634.6 L578.2,636.3 L578.8,637.7 L579.4,639.4 L580.0,641.0 L580.7,643.0 L581.3,643.7 L581.9,645.6 L582.5,646.9 L583.1,648.7 L583.8,650.0 L584.4,652.0 L585.0,653.9" fill="none" stroke="#1f77b4" stroke-opacity="0.85" stroke-width="2.727" stroke-linejoin="round"/>
<line x1="89.5" y1="568.1" x2="612.0" y2="568.1" stroke="#ff7f0e" stroke-opacity="0.8" stroke-width="2.727" stroke-dasharray="2.727 4.500" stroke-dashoffset="0.6"/>
<line x1="89.5" y1="545.0" x2="89.5" y2="712.0" stroke="#ff7f0e" stroke-width="1.6"/>
<line x1="612.0" y1="545.0" x2="612.0" y2="712.0" stroke="#1f77b4" stroke-width="1.6"/>
<line x1="88.7" y1="712.0" x2="612.8" y2="712.0" stroke="#000" stroke-width="1.6"/>
<line x1="82.5" y1="661.3" x2="89.5" y2="661.3" stroke="#000" stroke-width="1.6"/>
<text x="75.0" y="667.6" font-size="16.0" fill="#ff7f0e" text-anchor="end" textLength="9.3" lengthAdjust="spacingAndGlyphs" >0</text>
<line x1="82.5" y1="605.6999999999999" x2="89.5" y2="605.6999999999999" stroke="#000" stroke-width="1.6"/>
<text x="75.0" y="612.0" font-size="16.0" fill="#ff7f0e" text-anchor="end" textLength="18.6" lengthAdjust="spacingAndGlyphs" >50</text>
<line x1="82.5" y1="550.0999999999999" x2="89.5" y2="550.0999999999999" stroke="#000" stroke-width="1.6"/>
<text x="75.0" y="556.4" font-size="16.0" fill="#ff7f0e" text-anchor="end" textLength="27.9" lengthAdjust="spacingAndGlyphs" >100</text>
<line x1="612.0" y1="661.5" x2="619.0" y2="661.5" stroke="#000" stroke-width="1.6"/>
<text x="640.5" y="667.8" font-size="16.0" fill="#1f77b4" text-anchor="middle" textLength="9.3" lengthAdjust="spacingAndGlyphs" >0</text>
<line x1="612.0" y1="607.4" x2="619.0" y2="607.4" stroke="#000" stroke-width="1.6"/>
<text x="640.5" y="613.7" font-size="16.0" fill="#1f77b4" text-anchor="middle" textLength="9.3" lengthAdjust="spacingAndGlyphs" >2</text>
<line x1="612.0" y1="553.3" x2="619.0" y2="553.3" stroke="#000" stroke-width="1.6"/>
<text x="640.5" y="559.6" font-size="16.0" fill="#1f77b4" text-anchor="middle" textLength="9.3" lengthAdjust="spacingAndGlyphs" >4</text>
<line x1="89.5" y1="712.0" x2="89.5" y2="719.0" stroke="#000" stroke-width="1.6"/>
<text x="89.5" y="738.1" font-size="16.0" fill="#000" text-anchor="middle" textLength="9.3" lengthAdjust="spacingAndGlyphs" >0</text>
<line x1="196.3" y1="712.0" x2="196.3" y2="719.0" stroke="#000" stroke-width="1.6"/>
<text x="196.3" y="738.1" font-size="16.0" fill="#000" text-anchor="middle" textLength="18.6" lengthAdjust="spacingAndGlyphs" >10</text>
<line x1="303.1" y1="712.0" x2="303.1" y2="719.0" stroke="#000" stroke-width="1.6"/>
<text x="303.1" y="738.1" font-size="16.0" fill="#000" text-anchor="middle" textLength="18.6" lengthAdjust="spacingAndGlyphs" >20</text>
<line x1="409.9" y1="712.0" x2="409.9" y2="719.0" stroke="#000" stroke-width="1.6"/>
<text x="409.9" y="738.1" font-size="16.0" fill="#000" text-anchor="middle" textLength="18.6" lengthAdjust="spacingAndGlyphs" >30</text>
<line x1="516.7" y1="712.0" x2="516.7" y2="719.0" stroke="#000" stroke-width="1.6"/>
<text x="516.7" y="738.1" font-size="16.0" fill="#000" text-anchor="middle" textLength="18.6" lengthAdjust="spacingAndGlyphs" >40</text>
<text x="328" y="760.7" font-size="16.3" fill="#000" textLength="43" lengthAdjust="spacingAndGlyphs"><tspan font-style="italic">R</tspan>/μm</text>
<g transform="translate(32.5,691.15) rotate(-90)" fill="#ff7f0e"><text x="-0.7" y="0" font-size="16.3" textLength="17.0" lengthAdjust="spacingAndGlyphs"><tspan font-style="italic">ϕ</tspan>/</text><text x="17.0" y="0" font-size="16.3" textLength="82.6" lengthAdjust="spacingAndGlyphs">(mrad·μm</text><text x="99.8" y="-6.3" font-size="12.5" textLength="16.8" lengthAdjust="spacingAndGlyphs">−1</text><text x="118.0" y="0" font-size="16.3">)</text></g>
<text transform="translate(666.0,628.5) rotate(-90)" x="0" y="0" font-size="16.3" fill="#1f77b4" text-anchor="middle" textLength="48" lengthAdjust="spacingAndGlyphs"><tspan font-style="italic">p</tspan>/GPa</text>
<text x="115.5" y="693.7" font-size="14.6" fill="#000" textLength="71.8" lengthAdjust="spacingAndGlyphs">Δ<tspan font-style="italic">t</tspan> = 15 ns</text>
<text x="-1" y="529.3" font-size="17.5" font-weight="bold" fill="#000" stroke="#000" stroke-width="0.35">c</text>
<rect x="143" y="21.5" width="415" height="28.5" fill="#fff" fill-opacity="0.8" stroke="#cccccc" stroke-width="2"/>
<line x1="149" y1="34.7" x2="177" y2="34.7" stroke="#a0a0a0" stroke-width="3.3" stroke-dasharray="11.3 5"/>
<line x1="310" y1="34.7" x2="342" y2="34.7" stroke="#a0a0a0" stroke-width="3.3"/>
<line x1="482" y1="35" x2="512" y2="35" stroke="#ff7f0e" stroke-opacity="0.8" stroke-width="2.727" stroke-dasharray="2.73 4.50"/>
<text x="190" y="39" font-size="15.8" fill="#000" textLength="9.6" lengthAdjust="spacingAndGlyphs" font-style="italic">E</text>
<text x="199.5" y="40.7" font-size="10.8" fill="#000" textLength="6.4" lengthAdjust="spacingAndGlyphs" >B</text>
<text x="210" y="38.2" font-size="15" fill="#000" textLength="11" lengthAdjust="spacingAndGlyphs" >≈</text>
<text x="224.5" y="39" font-size="14.6" fill="#000" textLength="38.8" lengthAdjust="spacingAndGlyphs" >22(6)</text>
<text x="266.5" y="39" font-size="14.6" fill="#000" textLength="14" lengthAdjust="spacingAndGlyphs" >μJ</text>
<text x="352.7" y="39" font-size="15.8" fill="#000" textLength="9.6" lengthAdjust="spacingAndGlyphs" font-style="italic">E</text>
<text x="361.7" y="40.7" font-size="10.8" fill="#000" textLength="6.4" lengthAdjust="spacingAndGlyphs" >B</text>
<text x="372.5" y="38.2" font-size="15" fill="#000" textLength="11" lengthAdjust="spacingAndGlyphs" >≈</text>
<text x="387" y="39" font-size="14.6" fill="#000" textLength="47.8" lengthAdjust="spacingAndGlyphs" >119(4)</text>
<text x="438.5" y="39" font-size="14.6" fill="#000" textLength="14" lengthAdjust="spacingAndGlyphs" >μJ</text>
<text x="522.5" y="39" font-size="14.6" fill="#000" textLength="10" lengthAdjust="spacingAndGlyphs" font-style="italic">ϕ</text>
<text x="532.5" y="40.7" font-size="9.8" fill="#000" textLength="19.5" lengthAdjust="spacingAndGlyphs" >Vac</text>
</svg>
</body></html>
